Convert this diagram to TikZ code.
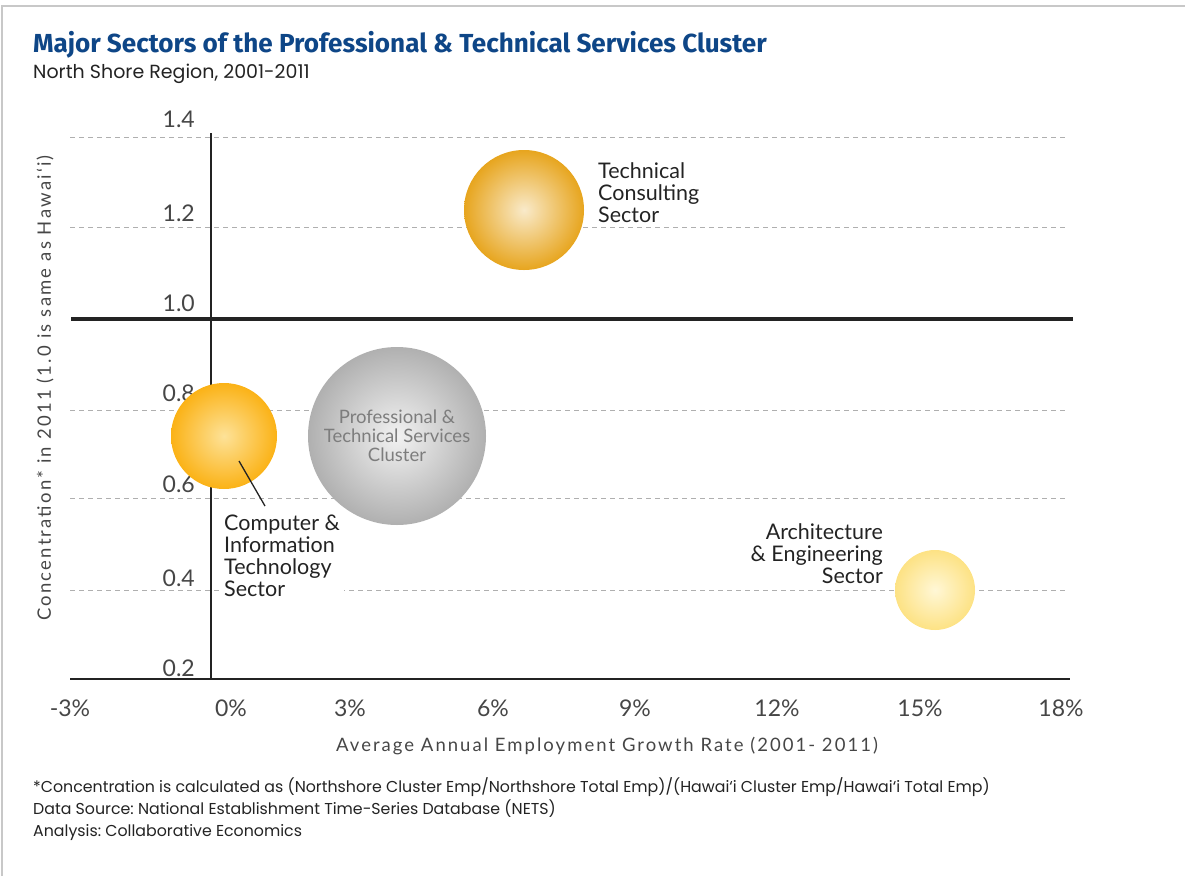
\documentclass[tikz,border=0pt]{standalone}
\usepackage{fontspec}
\setmainfont{Lato}
\newfontfamily\titlefont{Fira Sans}
\newfontfamily\notefont{Poppins}
\usetikzlibrary{positioning}
\definecolor{titleblue}{RGB}{14,70,135}
\definecolor{framegray}{RGB}{200,200,200}
\definecolor{gridgray}{RGB}{175,175,175}
\definecolor{tickgray}{RGB}{70,70,70}
\definecolor{txtdark}{RGB}{35,35,35}
\definecolor{clustgray}{RGB}{125,125,125}

\begin{document}
\frenchspacing
\begin{tikzpicture}[x=1pt,y=-1pt,
  grid/.style={draw=gridgray, dash pattern=on 5pt off 4pt, line width=0.9pt},
  tick/.style={text=tickgray, inner sep=0pt, font=\fontsize{23}{23}\selectfont},
  bubble/.style={circle, inner sep=0pt},
  lbl/.style={text=txtdark, inner sep=0pt, font=\fontsize{21.5}{22}\selectfont},
  note/.style={anchor=base west, inner sep=0pt, text=txtdark, font=\notefont\fontsize{15.8}{15.8}\selectfont}]
  \useasboundingbox (0,0) rectangle (1185,876);
  \draw[framegray, line width=2.2pt] (2,876) -- (2,6) -- (1185,6);
  % title
  \node[anchor=base west, inner sep=0pt, text=titleblue, font=\titlefont\bfseries\fontsize{26.1}{26}\selectfont] (title) at (33,52) {Major Sectors of the Professional \& Technical Services Cluster};
  \node[anchor=base west, inner sep=0pt, text=txtdark, font=\notefont\fontsize{19}{19}\selectfont] (subtitle) at (33,78) {North Shore Region, 2001-2011};
  % grid and axes
  \foreach \yy in {137,227,410,498,590}
    \draw[grid] (70,\yy) -- (1068,\yy);
  \draw[txtdark, line width=2pt] (211,133) -- (211,679);
  \draw[txtdark, line width=2.5pt] (70,679) -- (1070,679);
  \draw[txtdark, line width=3.5pt] (71,319) -- (1073,319);
  % tick labels
  \node[tick, anchor=base east] (y14) at (195,127) {1.4};
  \node[tick, anchor=base east] (y12) at (195,221) {1.2};
  \node[tick, anchor=base east] (y10) at (195,311) {1.0};
  \node[tick, anchor=base east] (y08) at (195,401) {0.8};
  \node[tick, anchor=base east] (y06) at (195,492) {0.6};
  \node[tick, anchor=base east] (y04) at (195,586) {0.4};
  \node[tick, anchor=base east] (y02) at (195,676) {0.2};
  \node[tick, anchor=base] (xm3) at (70,716) {-3\%};
  \node[tick, anchor=base] (x0) at (231,716) {0\%};
  \node[tick, anchor=base] (x3) at (350,716) {3\%};
  \node[tick, anchor=base] (x6) at (493,716) {6\%};
  \node[tick, anchor=base] (x9) at (635,716) {9\%};
  \node[tick, anchor=base] (x12) at (777,716) {12\%};
  \node[tick, anchor=base] (x15) at (920,716) {15\%};
  \node[tick, anchor=base] (x18) at (1061,716) {18\%};
  \node[text=tickgray, inner sep=0pt, font=\fontsize{18.5}{18.5}\selectfont\addfontfeature{LetterSpace=11}] (xtitle) at (607,746) {Average Annual Employment Growth Rate (2001- 2011)};
  \node[text=tickgray, inner sep=0pt, rotate=90, font=\fontsize{18.5}{18.5}\selectfont\addfontfeature{LetterSpace=12}] (ytitle) at (45,388) {Concentration* in 2011 (1.0 is same as Hawai‘i)};
  % bubbles
  \node[bubble, minimum size=178pt, inner color={rgb,255:red,242;green,242;blue,242}, outer color={rgb,255:red,176;green,176;blue,176}, text=clustgray, align=center, font=\fontsize{18.5}{19}\selectfont] (cluster) at (397,436) {Professional \&\\Technical Services\\Cluster};
  \node[bubble, minimum size=106pt, inner color={rgb,255:red,253;green,226;blue,152}, outer color={rgb,255:red,251;green,178;blue,22}] (cit) at (224,436) {};
  \node[bubble, minimum size=120pt, inner color={rgb,255:red,249;green,234;blue,202}, outer color={rgb,255:red,231;green,165;blue,30}] (tc) at (524,210) {};
  \node[bubble, minimum size=80pt, inner color={rgb,255:red,255;green,247;blue,214}, outer color={rgb,255:red,253;green,226;blue,132}] (ae) at (935,590) {};
  % labels
  \node[lbl, anchor=north west, align=left] (tclbl) at (598,162) {Technical\\Consulting\\Sector};
  \node[lbl, anchor=north east, align=right] (aelbl) at (883,523) {Architecture\\\& Engineering\\Sector};
  \node[lbl, anchor=north west, align=left, fill=white, inner xsep=4pt, inner ysep=2pt] (citlbl) at (220,513) {Computer \&\\Information\\Technology\\Sector};
  \coordinate (citpt) at (239,461);
  \draw[txtdark, line width=1.3pt] (citpt) -- ([xshift=45pt, yshift=7pt]citlbl.north west);
  % notes
  \node[note] (note1) at (33,792) {*Concentration is calculated as (Northshore Cluster Emp/Northshore Total Emp)/(Hawai‘i Cluster Emp/Hawai‘i Total Emp)};
  \node[note] (note2) at (33,814) {Data Source: National Establishment Time-Series Database (NETS)};
  \node[note] (note3) at (33,836) {Analysis: Collaborative Economics};
\end{tikzpicture}
\end{document}
